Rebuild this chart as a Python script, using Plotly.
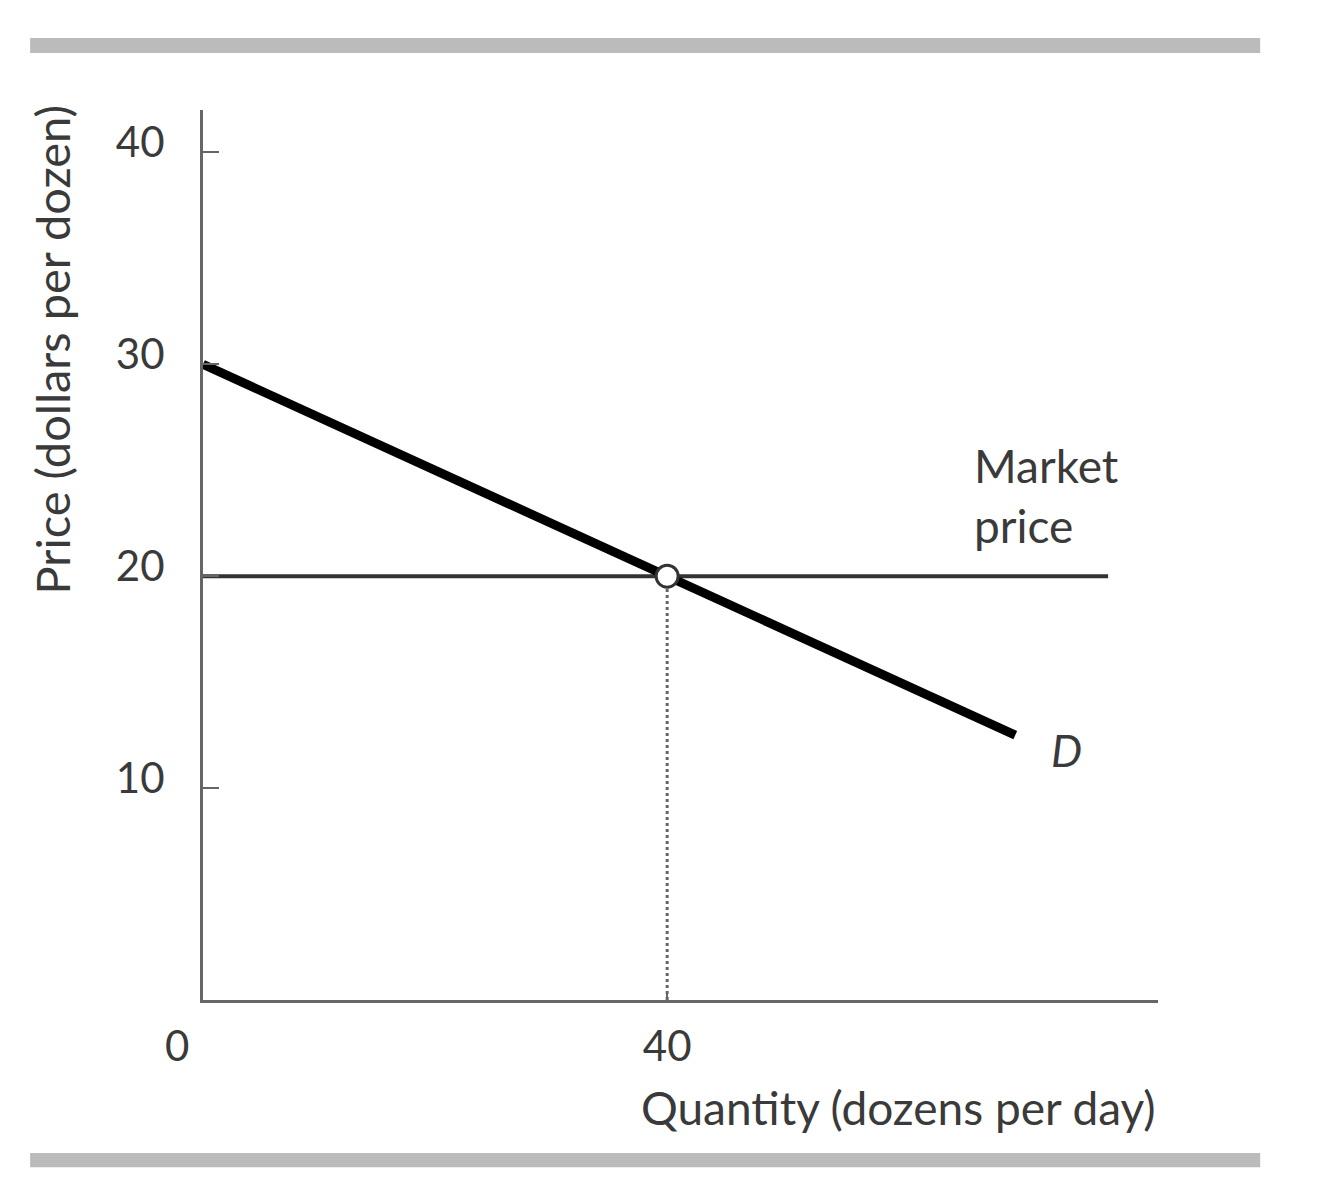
import plotly.graph_objects as go

# ---- data ----
demand_quantity = [0, 70]
demand_price = [30, 12.5]
market_price_quantity = [0, 78]
market_price_value = [20, 20]
equilibrium_quantity = [40]
equilibrium_price = [20]
drop_quantity = [40, 40]
drop_price = [0, 20]
y_tick_values = [10, 20, 30, 40]
y_tick_labels = ["10", "20", "30", "40"]
x_tick_values = [40]
x_tick_labels = ["40"]

FONT = "Lato"
TXT = "#3a3a3a"
AX = "#666666"

fig = go.Figure()

fig.add_trace(go.Scatter(x=drop_quantity, y=drop_price, mode="lines",
                         line=dict(color="#666666", width=3, dash="dot"),
                         hoverinfo="skip", showlegend=False))
fig.add_trace(go.Scatter(x=market_price_quantity, y=market_price_value, mode="lines",
                         line=dict(color="#333333", width=4),
                         showlegend=False))
fig.add_trace(go.Scatter(x=demand_quantity, y=demand_price, mode="lines",
                         line=dict(color="#000000", width=9),
                         showlegend=False))
fig.add_trace(go.Scatter(x=equilibrium_quantity, y=equilibrium_price, mode="markers",
                         marker=dict(size=22, color="white",
                                     line=dict(color="#333333", width=3)),
                         showlegend=False))

fig.update_xaxes(range=[0, 82.3], showline=True, linecolor=AX, linewidth=3,
                 showgrid=False, zeroline=False,
                 tickvals=x_tick_values, ticktext=x_tick_labels,
                 ticks="inside", ticklen=8, tickwidth=2, tickcolor=AX,
                 tickfont=dict(family=FONT, size=42, color=TXT),
                 ticklabelstandoff=8)
fig.update_yaxes(range=[0, 42], showline=True, linecolor=AX, linewidth=3,
                 showgrid=False, zeroline=False,
                 tickvals=y_tick_values, ticktext=y_tick_labels,
                 ticks="inside", ticklen=16, tickwidth=2, tickcolor=AX,
                 tickfont=dict(family=FONT, size=42, color=TXT),
                 ticklabelstandoff=27, ticklabelshift=-10)

annotations = [
    dict(text="0", x=0, y=0, xref="x", yref="y", xanchor="center", yanchor="top",
         xshift=-26, yshift=-18, showarrow=False,
         font=dict(family=FONT, size=42, color=TXT)),
    dict(text="Quantity (dozens per day)", x=1, y=-0.088, xref="paper", yref="paper",
         xanchor="right", yanchor="top", showarrow=False,
         font=dict(family=FONT, size=46, color=TXT)),
    dict(text="Price (dollars per dozen)", x=-0.158, y=0.73, xref="paper", yref="paper",
         xanchor="center", yanchor="middle", textangle=-90, showarrow=False,
         font=dict(family=FONT, size=47, color=TXT)),
    dict(text="Market<br>price", x=66.3, y=23.8, xref="x", yref="y",
         xanchor="left", yanchor="middle", align="left", showarrow=False,
         font=dict(family=FONT, size=46, color=TXT)),
    dict(text="<i>D</i>", x=74.4, y=11.8, xref="x", yref="y",
         xanchor="center", yanchor="middle", showarrow=False,
         font=dict(family=FONT, size=44, color=TXT)),
]

shapes = [
    dict(type="rect", xref="paper", yref="paper", x0=-0.181, x1=1.107,
         y0=1.064, y1=1.081, fillcolor="#bbbbbb", line=dict(width=0), layer="below"),
    dict(type="rect", xref="paper", yref="paper", x0=-0.181, x1=1.107,
         y0=-0.188, y1=-0.172, fillcolor="#bbbbbb", line=dict(width=0), layer="below"),
]

fig.update_layout(width=1339, height=1200,
                  margin=dict(l=195, r=189, t=102, b=208),
                  paper_bgcolor="white", plot_bgcolor="white",
                  annotations=annotations, shapes=shapes,
                  showlegend=False)

fig.write_html("out.html")
